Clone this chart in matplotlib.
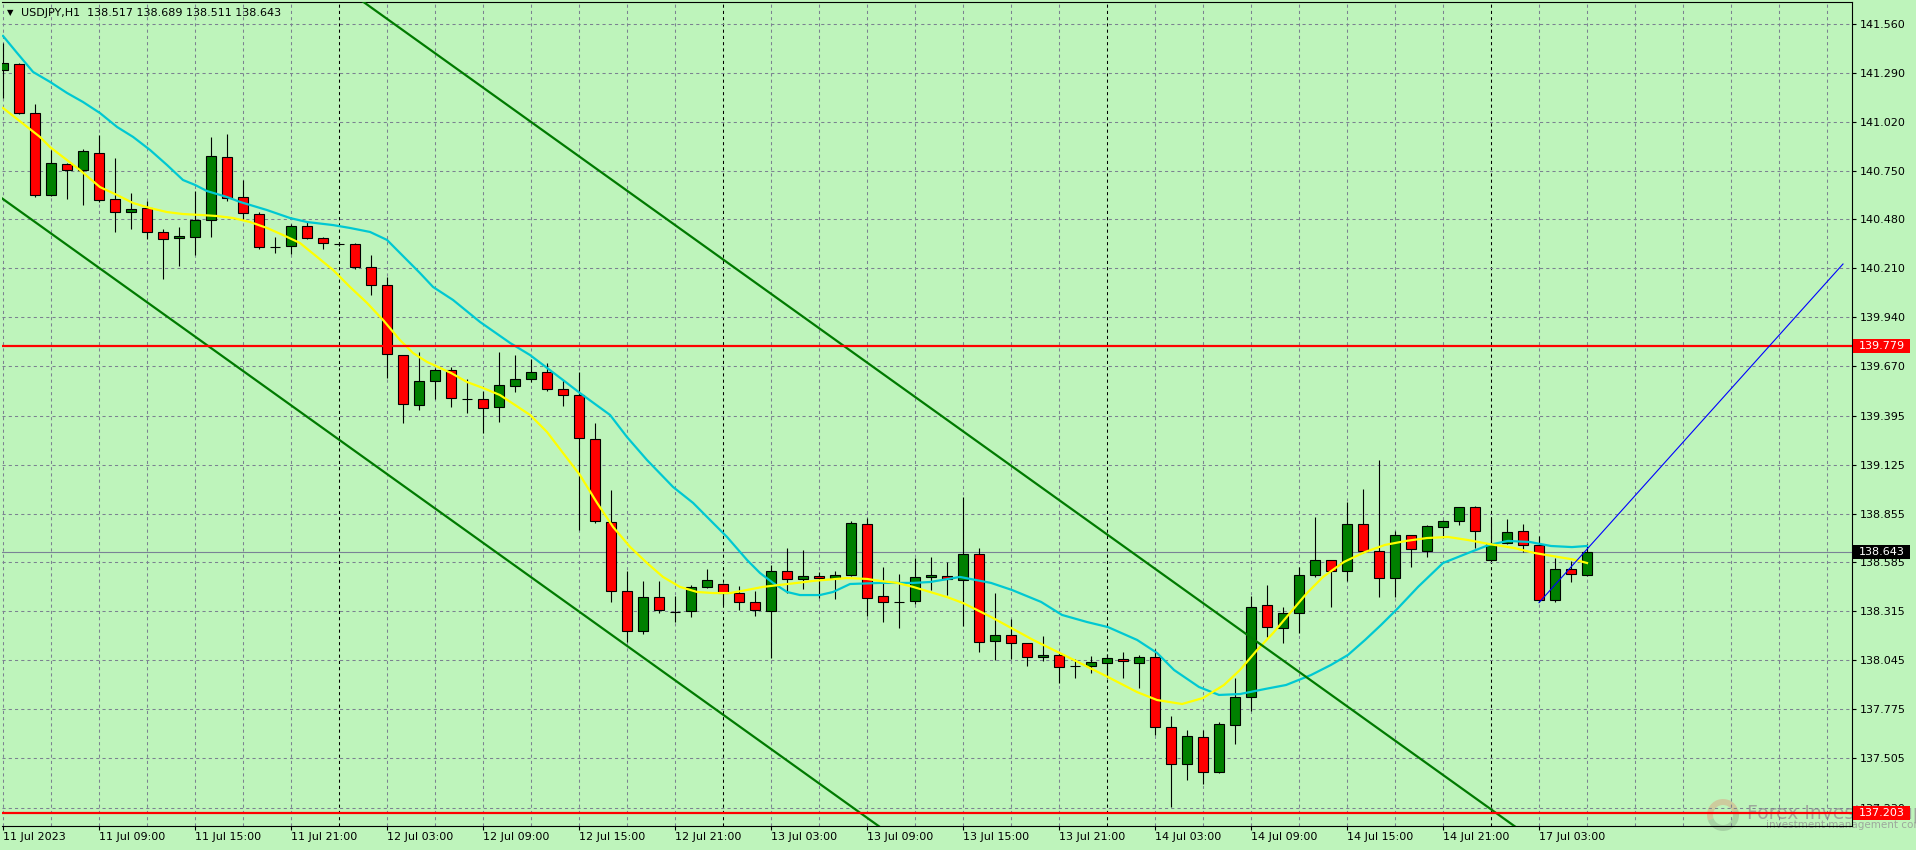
import matplotlib
matplotlib.use("Agg")
import matplotlib.pyplot as plt
from matplotlib.patches import Rectangle, Wedge
from matplotlib.transforms import IdentityTransform

# ---------------- data ----------------
symbol = "USDJPY,H1"
header_ohlc = ["138.517", "138.689", "138.511", "138.643"]

opens = [141.306, 141.339, 141.067, 140.614, 140.785, 140.753, 140.846, 140.592, 140.523, 140.542,
         140.409, 140.376, 140.382, 140.476, 140.824, 140.603, 140.509, 140.330, 140.332, 140.442,
         140.376, 140.343, 140.343, 140.216, 140.116, 139.730, 139.453, 139.586, 139.647, 139.490,
         139.487, 139.442, 139.558, 139.597, 139.636, 139.542, 139.509, 139.266, 138.807, 138.426,
         138.205, 138.393, 138.311, 138.315, 138.448, 138.468, 138.415, 138.365, 138.315, 138.536,
         138.492, 138.509, 138.497, 138.514, 138.796, 138.398, 138.368, 138.370, 138.503, 138.509,
         138.487, 138.630, 138.150, 138.183, 138.139, 138.061, 138.076, 138.015, 138.012, 138.028,
         138.050, 138.028, 138.061, 137.674, 137.470, 137.619, 137.426, 137.685, 137.840, 138.348,
         138.221, 138.304, 138.514, 138.597, 138.536, 138.796, 138.647, 138.497, 138.735, 138.647,
         138.779, 138.812, 138.890, 138.597, 138.691, 138.757, 138.680, 138.376, 138.547, 138.517]
highs = [141.455, 141.345, 141.118, 140.864, 140.790, 140.868, 140.947, 140.820, 140.625, 140.584,
         140.426, 140.437, 140.639, 140.934, 140.951, 140.698, 140.521, 140.382, 140.453, 140.468,
         140.382, 140.353, 140.352, 140.284, 140.161, 139.732, 139.750, 139.658, 139.663, 139.597,
         139.534, 139.746, 139.731, 139.708, 139.689, 139.593, 139.639, 139.354, 138.985, 138.538,
         138.483, 138.483, 138.400, 138.461, 138.549, 138.470, 138.455, 138.429, 138.569, 138.665,
         138.654, 138.531, 138.536, 138.812, 138.829, 138.558, 138.520, 138.608, 138.614, 138.586,
         138.948, 138.667, 138.416, 138.273, 138.142, 138.177, 138.090, 138.053, 138.067, 138.078,
         138.089, 138.072, 138.105, 137.735, 137.658, 137.658, 137.702, 137.945, 138.398, 138.459,
         138.337, 138.558, 138.835, 138.600, 138.918, 138.989, 139.150, 138.757, 138.738, 138.790,
         138.820, 138.893, 138.895, 138.829, 138.824, 138.796, 138.730, 138.608, 138.592, 138.689]
lows = [141.151, 141.063, 140.606, 140.610, 140.595, 140.562, 140.578, 140.412, 140.429, 140.374,
        140.153, 140.223, 140.284, 140.382, 140.584, 140.477, 140.315, 140.293, 140.291, 140.374,
        140.319, 140.333, 140.205, 140.063, 139.602, 139.357, 139.427, 139.487, 139.442, 139.409,
        139.302, 139.363, 139.529, 139.584, 139.534, 139.450, 138.764, 138.805, 138.368, 138.147,
        138.188, 138.304, 138.256, 138.282, 138.442, 138.352, 138.322, 138.288, 138.056, 138.415,
        138.437, 138.387, 138.382, 138.511, 138.291, 138.254, 138.225, 138.356, 138.433, 138.404,
        138.234, 138.092, 138.046, 138.053, 138.015, 138.039, 137.918, 137.948, 137.973, 137.945,
        137.948, 137.890, 137.630, 137.236, 137.382, 137.360, 137.424, 137.580, 137.763, 138.172,
        138.139, 138.194, 138.503, 138.337, 138.484, 138.636, 138.393, 138.396, 138.562, 138.614,
        138.730, 138.790, 138.663, 138.594, 138.688, 138.644, 138.365, 138.365, 138.476, 138.511]
closes = [141.343, 141.067, 140.614, 140.790, 140.753, 140.857, 140.586, 140.523, 140.540, 140.409,
          140.371, 140.387, 140.476, 140.829, 140.599, 140.514, 140.326, 140.330, 140.442, 140.376,
          140.348, 140.343, 140.216, 140.116, 139.735, 139.459, 139.586, 139.647, 139.492, 139.490,
          139.437, 139.564, 139.597, 139.636, 139.542, 139.509, 139.271, 138.812, 138.426, 138.205,
          138.393, 138.321, 138.311, 138.448, 138.487, 138.415, 138.365, 138.321, 138.536, 138.492,
          138.509, 138.497, 138.514, 138.801, 138.387, 138.365, 138.368, 138.503, 138.514, 138.492,
          138.630, 138.144, 138.183, 138.139, 138.061, 138.072, 138.006, 138.015, 138.034, 138.056,
          138.039, 138.061, 137.674, 137.470, 137.625, 137.426, 137.691, 137.840, 138.337, 138.227,
          138.304, 138.514, 138.597, 138.536, 138.796, 138.647, 138.497, 138.735, 138.658, 138.785,
          138.812, 138.890, 138.757, 138.685, 138.752, 138.680, 138.376, 138.547, 138.520, 138.643]

# moving averages (bar position, price)
ma_fast_bars = [0, 2.31, 2.94, 4.81, 6.06, 7.13, 8.13, 9.19, 10.25, 11.25, 12.31, 13.38, 14.38, 15.44,
                16.5, 17.5, 18.56, 19.63, 20.63, 21.69, 22.75, 23.75, 24.81, 25.63, 26.5, 28.0, 29.0,
                30.0, 31.06, 32.94, 34.0, 35.0, 36.06, 37.13, 38.13, 39.19, 40.25, 41.25, 42.31,
                43.38, 44.38, 45.44, 46.5, 47.5, 48.56, 49.63, 50.63, 52.75, 54.0, 54.81, 55.88,
                56.88, 57.94, 59.0, 60.0, 61.75, 64.38, 66.94, 69.06, 70.88, 72.13, 73.69, 75.0,
                76.31, 77.31, 78.38, 79.38, 80.44, 81.5, 82.5, 83.81, 85.13, 86.38, 87.69, 89.0,
                90.31, 91.56, 92.88, 94.44, 95.75, 97.56, 98.3, 99.0]
ma_fast = [141.096, 140.936, 140.880, 140.753, 140.659, 140.615, 140.571, 140.543, 140.521, 140.510,
           140.505, 140.499, 140.488, 140.466, 140.433, 140.394, 140.350, 140.273, 140.201, 140.107,
           140.019, 139.925, 139.814, 139.742, 139.693, 139.632, 139.582, 139.549, 139.510, 139.400,
           139.306, 139.190, 139.068, 138.914, 138.781, 138.671, 138.582, 138.505, 138.450, 138.422,
           138.416, 138.416, 138.433, 138.450, 138.461, 138.472, 138.483, 138.499, 138.494, 138.483,
           138.472, 138.450, 138.422, 138.394, 138.361, 138.284, 138.157, 138.046, 137.952, 137.869,
           137.825, 137.803, 137.836, 137.908, 137.991, 138.101, 138.195, 138.306, 138.416, 138.505,
           138.588, 138.643, 138.682, 138.704, 138.720, 138.726, 138.709, 138.687, 138.665, 138.637,
           138.610, 138.599, 138.582]
ma_slow_bars = [0, 0.88, 1.88, 2.94, 4.0, 5.0, 6.06, 7.13, 8.13, 9.19, 10.25, 11.25, 12.0, 12.75, 14.0,
                14.81, 16.5, 17.94, 19.0, 20.63, 21.69, 22.94, 24.0, 24.81, 26.06, 26.88, 28.13, 29.81,
                31.69, 32.94, 35.0, 36.06, 37.94, 39.0, 40.25, 41.88, 43.13, 44.38, 45.25, 46.5, 47.31,
                48.13, 49.0, 49.81, 51.06, 51.88, 52.94, 54.81, 56.88, 57.94, 59.81, 61.75, 63.06,
                64.88, 66.19, 67.75, 69.06, 70.88, 72.13, 73.19, 74.75, 76.0, 77.31, 78.88, 80.19,
                81.75, 83.0, 84.06, 85.13, 86.13, 87.19, 88.44, 90.0, 91.56, 92.88, 94.06, 95.44,
                96.75, 98.06, 99.0]
ma_slow = [141.494, 141.400, 141.295, 141.240, 141.179, 141.129, 141.068, 140.991, 140.936, 140.864,
           140.781, 140.698, 140.671, 140.637, 140.604, 140.577, 140.532, 140.488, 140.466, 140.449,
           140.433, 140.411, 140.367, 140.295, 140.184, 140.107, 140.035, 139.914, 139.798, 139.731,
           139.593, 139.521, 139.400, 139.278, 139.151, 139.002, 138.914, 138.803, 138.726, 138.599,
           138.527, 138.472, 138.422, 138.405, 138.405, 138.422, 138.466, 138.472, 138.472, 138.477,
           138.505, 138.472, 138.433, 138.367, 138.295, 138.256, 138.228, 138.157, 138.085, 137.991,
           137.897, 137.853, 137.858, 137.886, 137.908, 137.963, 138.019, 138.074, 138.157, 138.240,
           138.333, 138.450, 138.582, 138.637, 138.682, 138.704, 138.698, 138.676, 138.670, 138.676]

# drawn objects (bar index, price)
channel_upper_bars = [-1, 117]
channel_upper = [143.171, 135.702]
channel_lower_bars = [-1, 117]
channel_lower = [140.656, 133.187]
blue_line_bars = [96, 115]
blue_line = [138.363, 140.234]
red_levels = [139.779, 137.203]
bid_price = 138.643

# axis labels
time_labels = ["11 Jul 2023", "11 Jul 09:00", "11 Jul 15:00", "11 Jul 21:00", "12 Jul 03:00",
               "12 Jul 09:00", "12 Jul 15:00", "12 Jul 21:00", "13 Jul 03:00", "13 Jul 09:00",
               "13 Jul 15:00", "13 Jul 21:00", "14 Jul 03:00", "14 Jul 09:00", "14 Jul 15:00",
               "14 Jul 21:00", "17 Jul 03:00"]
time_label_bars = list(range(0, 97, 6))
day_separator_bars = [21, 45, 69, 93]
price_ticks = [141.560, 141.290, 141.020, 140.750, 140.480, 140.210, 139.940, 139.670, 139.395,
               139.125, 138.855, 138.585, 138.315, 138.045, 137.775, 137.505, 137.230]
price_tick_labels = ["141.560", "141.290", "141.020", "140.750", "140.480", "140.210", "139.940",
                     "139.670", "139.395", "139.125", "138.855", "138.585", "138.315", "138.045",
                     "137.775", "137.505", "137.230"]
watermark_title = "Forex Invest Group"
watermark_sub = "investment management company"

# ---------------- style ----------------
BG = "#bef4bb"
GRID = "#7b8290"
plt.rcParams["font.family"] = ["DejaVu Sans"]

W, H = 1916, 850
tid = IdentityTransform()
fig = plt.figure(figsize=(W / 100, H / 100), dpi=100, facecolor=BG)
ax = fig.add_axes([2 / W, (H - 826) / H, 1850 / W, 824 / H])
ax.patch.set_alpha(0.0)          # transparent so the watermark (drawn first) shows through
ax.set_xlim(-0.0625, 115.5625)
ax.set_ylim(137.129, 141.6815)

# watermark, drawn beneath the whole chart
fig.add_artist(Wedge((1723, H - 815), 16, 20, 200, width=6, transform=tid, facecolor="#d8b08a",
                     edgecolor="none", alpha=0.6, zorder=-2))
fig.add_artist(Wedge((1723, H - 815), 16, 200, 380, width=6, transform=tid, facecolor="#98bf96",
                     edgecolor="none", alpha=0.6, zorder=-2))
fig.text(1747, H - 819, watermark_title, transform=tid, fontsize=13.5,
         family=["Liberation Sans Narrow", "DejaVu Sans"], color="#959595", alpha=0.8,
         va="baseline", ha="left", zorder=-2)
fig.text(1766, H - 825, watermark_sub, transform=tid, fontsize=7.5,
         family=["Liberation Sans Narrow", "DejaVu Sans"],
         color="#959595", alpha=0.8, va="center", ha="left", zorder=-2)

# grid
for b in range(0, 116, 3):
    if b in day_separator_bars:
        ax.axvline(b, color="black", lw=0.75, ls=(0, (3, 3)), zorder=1)
    else:
        ax.axvline(b, color=GRID, lw=0.75, ls=(0, (3, 3)), zorder=1)
for p in price_ticks:
    ax.axhline(p, color=GRID, lw=0.75, ls=(0, (3, 3)), zorder=1)

# bid line
ax.axhline(bid_price, color="#7a8296", lw=0.8, zorder=1.5)

# candles
bars = list(range(len(opens)))
ax.vlines(bars, lows, highs, colors="black", lw=0.8, zorder=2)
body_bottom = [min(o, c) for o, c in zip(opens, closes)]
body_height = [abs(c - o) for o, c in zip(opens, closes)]
body_color = ["#008000" if c > o else ("#ff0000" if c < o else "black") for o, c in zip(opens, closes)]
ax.bar(bars, body_height, bottom=body_bottom, width=0.62, color=body_color,
       edgecolor="black", linewidth=0.8, zorder=3)

# indicators and objects
ax.plot(ma_slow_bars, ma_slow, color="#00c8d2", lw=1.6, zorder=4)
ax.plot(ma_fast_bars, ma_fast, color="#ffff00", lw=1.6, zorder=4.1)
ax.plot(channel_upper_bars, channel_upper, color="#007a00", lw=1.6, zorder=4.2)
ax.plot(channel_lower_bars, channel_lower, color="#007a00", lw=1.6, zorder=4.2)
for lvl in red_levels:
    ax.axhline(lvl, color="#ff0000", lw=1.6, zorder=4.3)
ax.plot(blue_line_bars, blue_line, color="#0000ff", lw=0.8, zorder=4.4)

# axes / ticks
ax.spines["left"].set_visible(False)
for s in ["right", "bottom", "top"]:
    ax.spines[s].set_color("black")
    ax.spines[s].set_linewidth(0.8)
ax.yaxis.tick_right()
ax.set_yticks(price_ticks)
ax.set_yticklabels(price_tick_labels)
ax.tick_params(axis="y", length=3, width=0.8, pad=2.9, labelsize=8, colors="black")
ax.set_xticks(time_label_bars)
ax.set_xticklabels(time_labels, ha="left")
ax.tick_params(axis="x", length=3, width=0.8, pad=1.5, labelsize=8, colors="black")

# price boxes on the right scale
def price_box(price, fc):
    yd = ax.transData.transform((0, price))[1]
    fig.add_artist(Rectangle((1853, yd - 7), 57, 14, transform=tid, facecolor=fc,
                             edgecolor="none", zorder=5))
    fig.text(1859, yd, f"{price:.3f}", transform=tid, color="white", fontsize=8,
             va="center", ha="left", zorder=6)

price_box(red_levels[0], "#ff0000")
price_box(red_levels[1], "#ff0000")
price_box(bid_price, "#000000")

# header
fig.text(7, H - 13, "\u25BC", transform=tid, fontsize=6, va="center", ha="left", color="black")
fig.text(21, H - 13, symbol + "  " + " ".join(header_ohlc), transform=tid, fontsize=8,
         va="center", ha="left", color="black")

fig.savefig("out.png", dpi=100, facecolor=BG)
